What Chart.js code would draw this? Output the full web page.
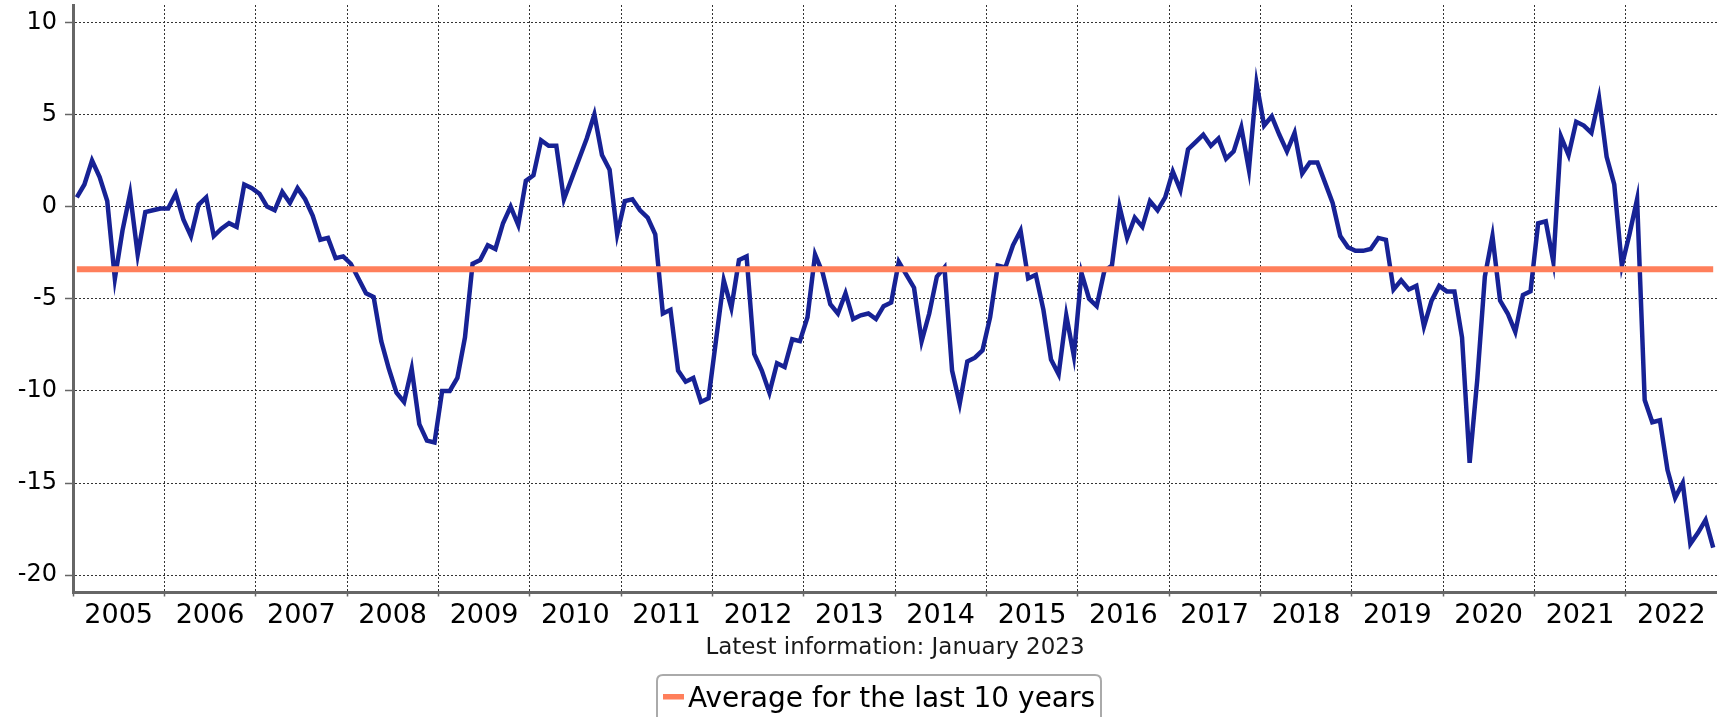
<!DOCTYPE html>
<html>
<head>
<meta charset="utf-8">
<script src="https://cdn.jsdelivr.net/npm/chart.js@4/dist/chart.umd.min.js"></script>
<style>
  html, body { margin: 0; padding: 0; background: #ffffff; }
  #wrap { width: 1717px; height: 717px; }
</style>
</head>
<body>
<div id="wrap"><canvas id="c" width="1717" height="717"></canvas></div>
<script>
// ---- data (monthly, January 2005 – December 2022) ----
const yearLabels = ['2005','2006','2007','2008','2009','2010','2011','2012','2013',
                    '2014','2015','2016','2017','2018','2019','2020','2021','2022'];

const values2005 = [0.5, 1.2, 2.5, 1.6, 0.3, -3.9, -1.3, 0.7, -2.6, -0.3, -0.2, -0.1];
const values2006 = [-0.1, 0.7, -0.7, -1.6, 0.1, 0.5, -1.6, -1.2, -0.9, -1.1, 1.2, 1.0];
const values2007 = [0.7, 0.0, -0.2, 0.8, 0.2, 1.0, 0.4, -0.5, -1.8, -1.7, -2.8, -2.7];
const values2008 = [-3.1, -3.9, -4.7, -4.9, -7.3, -8.8, -10.1, -10.6, -8.8, -11.8, -12.7, -12.8];
const values2009 = [-10.0, -10.0, -9.3, -7.1, -3.1, -2.9, -2.1, -2.3, -0.9, 0.0, -1.0, 1.4];
const values2010 = [1.7, 3.6, 3.3, 3.3, 0.4, 1.5, 2.6, 3.7, 5.0, 2.8, 2.0, -1.5];
const values2011 = [0.3, 0.4, -0.2, -0.6, -1.5, -5.8, -5.6, -8.9, -9.5, -9.3, -10.6, -10.4];
const values2012 = [-7.2, -4.0, -5.5, -2.9, -2.7, -8.0, -8.9, -10.1, -8.5, -8.7, -7.2, -7.3];
const values2013 = [-6.0, -2.6, -3.6, -5.3, -5.8, -4.7, -6.1, -5.9, -5.8, -6.1, -5.4, -5.2];
const values2014 = [-3.0, -3.7, -4.4, -7.3, -5.8, -3.8, -3.3, -8.9, -10.7, -8.4, -8.2, -7.8];
const values2015 = [-6.0, -3.2, -3.3, -2.1, -1.3, -3.9, -3.7, -5.6, -8.3, -9.1, -5.9, -8.1];
const values2016 = [-3.6, -5.0, -5.4, -3.5, -3.2, 0.0, -1.7, -0.6, -1.1, 0.3, -0.2, 0.5];
const values2017 = [1.9, 0.9, 3.1, 3.5, 3.9, 3.3, 3.7, 2.6, 3.0, 4.3, 2.0, 6.7];
const values2018 = [4.4, 4.9, 3.9, 3.0, 4.0, 1.8, 2.4, 2.4, 1.3, 0.2, -1.6, -2.2];
const values2019 = [-2.4, -2.4, -2.3, -1.7, -1.8, -4.5, -4.0, -4.5, -4.3, -6.5, -5.1, -4.3];
const values2020 = [-4.6, -4.6, -7.1, -13.9, -9.4, -3.8, -1.6, -5.1, -5.8, -6.8, -4.8, -4.6];
const values2021 = [-0.9, -0.8, -3.0, 3.8, 2.8, 4.6, 4.4, 4.0, 5.9, 2.7, 1.2, -3.2];
const values2022 = [-1.5, 0.4, -10.5, -11.7, -11.6, -14.3, -15.8, -15.0, -18.3, -17.7, -17.0, -18.5];

const averageLast10Years = -3.4;
const yTicks = [-20, -15, -10, -5, 0, 5, 10];
const noteText = 'Latest information: January 2023';
const averageLabel = 'Average for the last 10 years';

const monthlyValues = [].concat(values2005, values2006, values2007, values2008, values2009,
  values2010, values2011, values2012, values2013, values2014, values2015, values2016,
  values2017, values2018, values2019, values2020, values2021, values2022);

// ---- styles ----
const FONT = '"DejaVu Sans", Verdana, sans-serif';
const BLUE = '#172295';
const ORANGE = '#ff7f5b';
const GRID = '#333333';
const AXIS = '#666666';

const legendBoxPlugin = {
  id: 'legendBox',
  afterDraw(chart) {
    const ctx = chart.ctx;
    const ds = chart.data.datasets[0];
    ctx.save();
    const x0 = 657, y0 = 675, w = 444, h = 60, r = 6;
    ctx.beginPath();
    ctx.moveTo(x0 + r, y0);
    ctx.lineTo(x0 + w - r, y0);
    ctx.quadraticCurveTo(x0 + w, y0, x0 + w, y0 + r);
    ctx.lineTo(x0 + w, y0 + h);
    ctx.lineTo(x0, y0 + h);
    ctx.lineTo(x0, y0 + r);
    ctx.quadraticCurveTo(x0, y0, x0 + r, y0);
    ctx.strokeStyle = '#aaaaaa';
    ctx.lineWidth = 2;
    ctx.stroke();
    ctx.fillStyle = ds.borderColor;
    ctx.fillRect(663, 694, 21, 5.5);
    ctx.fillStyle = '#000000';
    ctx.font = '28px ' + FONT;
    ctx.textBaseline = 'alphabetic';
    ctx.textAlign = 'left';
    ctx.fillText(ds.label, 688, 707);
    ctx.restore();
  }
};

new Chart(document.getElementById('c'), {
  type: 'line',
  data: {
    datasets: [
      {
        label: averageLabel,
        data: [{x: 0.5, y: averageLast10Years}, {x: monthlyValues.length - 0.5, y: averageLast10Years}],
        borderColor: ORANGE,
        backgroundColor: ORANGE,
        borderWidth: 6,
        pointRadius: 0,
        borderCapStyle: 'butt',
        tension: 0
      },
      {
        label: 'Indicator',
        data: monthlyValues.map((v, i) => ({x: i + 0.5, y: v})),
        borderColor: BLUE,
        backgroundColor: BLUE,
        borderWidth: 4.5,
        pointRadius: 0,
        tension: 0
      }
    ]
  },
  options: {
    responsive: false,
    animation: false,
    devicePixelRatio: 1,
    layout: { padding: { top: 5, left: 0, right: 0, bottom: 0 } },
    plugins: {
      legend: { display: false },
      tooltip: { enabled: false }
    },
    scales: {
      x: {
        type: 'linear',
        min: 0,
        max: monthlyValues.length,
        afterBuildTicks(scale) {
          const t = [];
          yearLabels.forEach((lab, k) => {
            t.push({value: k * 12});
            t.push({value: k * 12 + 6});
          });
          scale.ticks = t;
        },
        afterFit(scale) {
          scale.height = 124.5;
          scale.paddingLeft = 0;
          scale.paddingRight = 0;
        },
        border: { display: true, color: AXIS, width: 3, dash: [2, 2] },
        grid: {
          color: ctx => (ctx.tick && ctx.tick.value % 12 === 0) ? GRID : 'rgba(0,0,0,0)',
          lineWidth: 1,
          drawTicks: true,
          tickLength: 4,
          tickColor: ctx => (ctx.tick && ctx.tick.value % 12 === 0) ? AXIS : 'rgba(0,0,0,0)',
          tickWidth: 1.5,
          tickBorderDash: []
        },
        ticks: {
          autoSkip: false,
          maxRotation: 0,
          minRotation: 0,
          padding: 3,
          color: '#000000',
          font: { family: FONT, size: 27 },
          callback: (value) => (value % 12 === 6) ? yearLabels[(value - 6) / 12] : ''
        },
        title: {
          display: true,
          text: noteText,
          color: '#1a1a1a',
          font: { family: FONT, size: 23 },
          padding: { top: 0, bottom: 55 }
        }
      },
      y: {
        type: 'linear',
        min: -20.94,
        max: 10.94,
        afterBuildTicks(scale) { scale.ticks = yTicks.map(v => ({value: v})); },
        afterFit(scale) {
          scale.width = 73;
          scale.paddingTop = 0;
          scale.paddingBottom = 0;
        },
        border: { display: true, color: AXIS, width: 3, dash: [2, 2] },
        grid: {
          color: GRID,
          lineWidth: 1,
          drawTicks: true,
          tickLength: 8,
          tickColor: AXIS,
          tickWidth: 1.5,
          tickBorderDash: []
        },
        ticks: {
          padding: 8,
          color: '#000000',
          font: { family: FONT, size: 24 },
          callback: v => String(v)
        }
      }
    }
  },
  plugins: [legendBoxPlugin]
});
</script>
</body>
</html>
